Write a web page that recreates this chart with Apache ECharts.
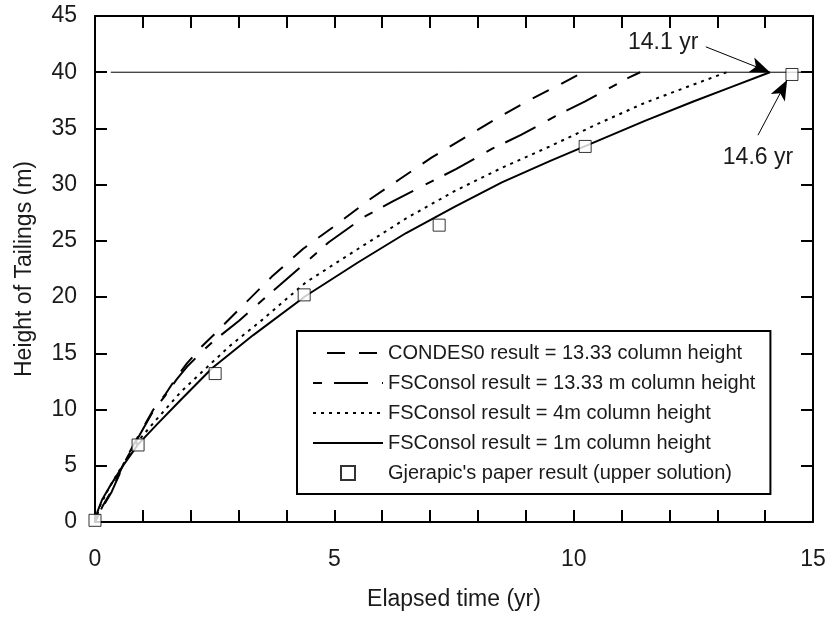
<!DOCTYPE html>
<html><head><meta charset="utf-8">
<script src="https://cdn.jsdelivr.net/npm/echarts@6/dist/echarts.min.js"></script>
<style>html,body{margin:0;padding:0;background:#fff}#c{width:830px;height:618px}</style>
</head><body><div id="c"></div>
<script>
// ---- axes ----
const xRange = [0, 15];
const xTickStep = 1;
const xLabelStep = 5;
const yRange = [0, 45];
const yTickStep = 5;
const xTitle = 'Elapsed time (yr)';
const yTitle = 'Height of Tailings (m)';

// ---- series names ----
const nameCondes = 'CONDES0 result = 13.33 column height';
const nameFs13 = 'FSConsol result = 13.33 m column height';
const nameFs4 = 'FSConsol result = 4m column height';
const nameFs1 = 'FSConsol result = 1m column height';
const nameGj = "Gjerapic's paper result (upper solution)";

// ---- data [time (yr), height (m)] ----
const condes0 = [[0,0],[0.17,1.5],[0.35,2.8],[0.63,5.5],[0.9,7.6],[1.22,10.0],[1.46,11.3],[1.71,12.9],[1.92,14.1],[2.23,15.6],[2.54,16.9],[3.03,19.0],[3.69,21.8],[4.35,24.3],[5.03,26.4],[5.71,28.6],[6.37,30.5],[7.03,32.4],[7.69,34.1],[8.36,35.8],[9.02,37.4],[9.71,38.9],[10.2,40]];
const fsconsol13 = [[0,0],[0.17,1.4],[0.35,2.7],[0.63,5.4],[0.9,7.5],[1.22,9.9],[1.46,11.2],[1.71,12.7],[1.92,13.8],[2.2,15.0],[2.45,16.0],[3.01,17.9],[3.57,20.0],[4.3,22.7],[4.89,24.9],[5.65,27.2],[6.21,28.5],[6.9,30.0],[7.55,31.4],[8.3,33.2],[8.89,34.4],[9.62,36.1],[10.24,37.4],[11.14,39.5],[11.39,40]];
const fsconsol4 = [[0,0],[0.1,1.4],[0.3,3.1],[0.6,5.2],[0.9,7.2],[1.3,9.2],[1.8,11.6],[2.2,13.2],[2.8,15.6],[3.5,18.0],[4.4,21.3],[5.5,24.3],[6.5,27.0],[7.5,29.4],[8.5,31.5],[9.5,33.4],[10.5,35.4],[11.5,37.3],[12.5,38.9],[13.2,40]];
const fsconsol1 = [[0,0],[0.05,0.9],[0.15,2.0],[0.3,3.1],[0.6,5.1],[0.9,6.9],[1.3,8.7],[1.8,10.9],[2.45,13.7],[3.3,16.6],[4.4,20.1],[5.5,23.1],[6.5,25.7],[7.5,28.0],[8.5,30.2],[9.5,32.1],[10.5,33.9],[11.5,35.7],[12.5,37.4],[13.3,38.7],[14.1,40]];
const gjerapic = [[0,0.15],[0.9,6.85],[2.51,13.2],[4.37,20.2],[7.19,26.4],[10.24,33.4],[14.56,39.8]];
const targetLine = [[0.33,40],[15,40]];

// ---- annotations ----
const annoText = ['14.1 yr', '14.6 yr'];
const annoTextAt = [[11.87,42.6],[13.85,32.4]];
const annoFrom = [[12.76,42.26],[13.85,34.4]];
const annoTo = [[14.1,40],[14.46,39.3]];

const FONT = 'Liberation Sans, Arial, Helvetica, sans-serif';
const TXT = '#1a1a1a';

const chart = echarts.init(document.getElementById('c'), null, {renderer:'canvas'});

function axisBase(range, step) {
  return {
    type:'value', min:range[0], max:range[1], interval:step,
    axisLine:{show:true, onZero:false, lineStyle:{color:'#000', width:2}},
    axisTick:{show:true, inside:true, length:12, lineStyle:{color:'#000', width:2}},
    splitLine:{show:false}
  };
}

const HIDDEN = {color:'rgba(0,0,0,0)', borderWidth:0, borderColor:'rgba(0,0,0,0)'};
const lineCommon = {type:'line', symbol:'none', smooth:false, z:3, animation:false, itemStyle:HIDDEN};

const option = {
  animation:false,
  textStyle:{fontFamily:FONT, color:TXT},
  grid:{left:95, right:17, top:16, bottom:96, containLabel:false},
  xAxis:[
    Object.assign(axisBase(xRange, xTickStep), {
      position:'bottom', name:xTitle, nameLocation:'middle', nameGap:66,
      nameTextStyle:{fontSize:23, color:TXT, fontFamily:FONT},
      axisLabel:{show:true, margin:26, fontSize:23, color:TXT, fontFamily:FONT,
        formatter:v => (v % xLabelStep === 0 ? String(v) : '')}
    }),
    Object.assign(axisBase(xRange, xTickStep), {position:'top', axisLabel:{show:false}})
  ],
  yAxis:[
    Object.assign(axisBase(yRange, yTickStep), {
      position:'left', name:yTitle, nameLocation:'middle', nameGap:59,
      nameTextStyle:{fontSize:23, color:TXT, fontFamily:FONT},
      axisLabel:{show:true, margin:18, fontSize:23, color:TXT, fontFamily:FONT}
    }),
    Object.assign(axisBase(yRange, yTickStep), {position:'right', axisLabel:{show:false}})
  ],
  legend:{
    orient:'vertical', left:297, top:331,
    padding:[12,15,11,15], itemGap:10, itemWidth:70, itemHeight:14,
    borderColor:'#000', borderWidth:2, backgroundColor:'#fff',
    textStyle:{fontSize:20, color:TXT, fontFamily:FONT},
    data:[
      {name:nameCondes}, {name:nameFs13}, {name:nameFs4}, {name:nameFs1},
      {name:nameGj, icon:'path://M0,0H10V10H0Z'}
    ]
  },
  series:[
    Object.assign({}, lineCommon, {name:'target', data:targetLine,
      lineStyle:{color:'#000', width:1}, z:2,
      markLine:{silent:true, symbol:['none','arrow'], symbolSize:[12,20],
        lineStyle:{color:'#000', width:1, type:'solid'}, label:{show:false},
        data:annoFrom.map((f,i)=>[{coord:f},{coord:annoTo[i]}])},
      markPoint:{silent:true, symbol:'circle', symbolSize:0,
        label:{show:true, position:'inside', fontSize:23, color:TXT, fontFamily:FONT,
          formatter:p => p.name},
        data:annoTextAt.map((c,i)=>({name:annoText[i], coord:c}))}
    }),
    Object.assign({}, lineCommon, {name:nameCondes, data:condes0,
      lineStyle:{color:'#000', width:2, type:[18,14], dashOffset:18}}),
    Object.assign({}, lineCommon, {name:nameFs13, data:fsconsol13,
      lineStyle:{color:'#000', width:2, type:[34,14,9,12], dashOffset:48}}),
    Object.assign({}, lineCommon, {name:nameFs4, data:fsconsol4,
      lineStyle:{color:'#000', width:2, type:[3,5]}}),
    Object.assign({}, lineCommon, {name:nameFs1, data:fsconsol1,
      lineStyle:{color:'#000', width:2, type:'solid'}}),
    {type:'scatter', name:nameGj, data:gjerapic, symbol:'rect', symbolSize:12, z:4,
      itemStyle:{color:'#fff', borderColor:'#000', borderWidth:1}, animation:false}
  ]
};
chart.setOption(option);
</script>
</body></html>
